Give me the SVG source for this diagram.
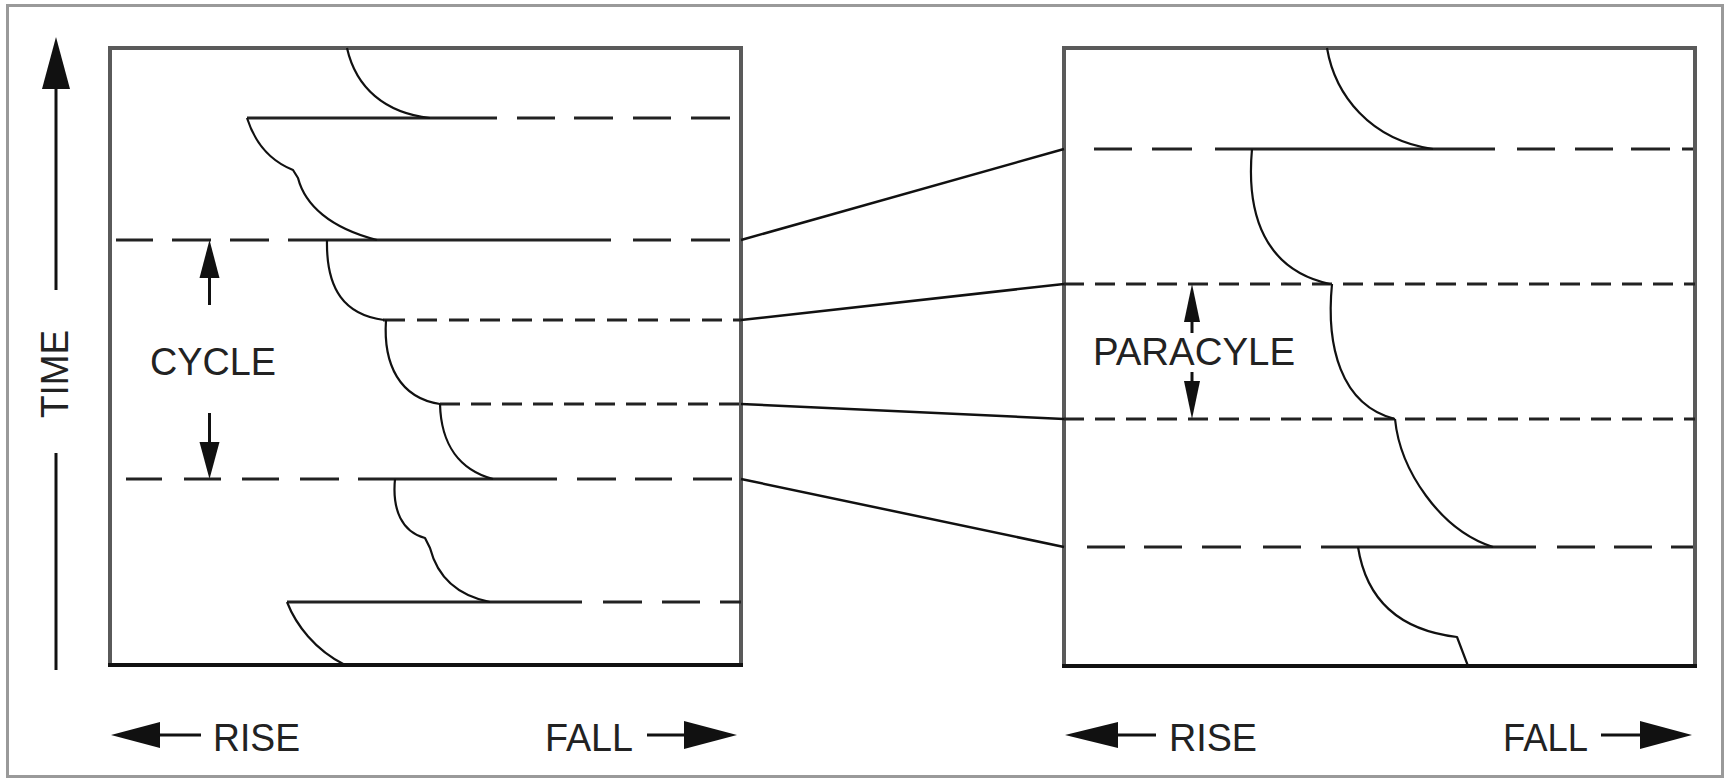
<svg xmlns="http://www.w3.org/2000/svg" width="1729" height="779" viewBox="0 0 1729 779">
  <style>
    .frame { fill: #fff; stroke: #9a9a9a; stroke-width: 3; }
    .box { fill: none; stroke: #5a5a5a; stroke-width: 4; }
    .base { stroke: #111; stroke-width: 4; }
    .lvl { fill: none; stroke: #222; stroke-width: 3; }
    .lvl-short { fill: none; stroke: #222; stroke-width: 3; }
    .curve { fill: none; stroke: #111; stroke-width: 2.2; stroke-linejoin: round; }
    .link { fill: none; stroke: #111; stroke-width: 2.5; }
    .shaft { fill: none; stroke: #111; stroke-width: 3; }
    .head { fill: #111; stroke: none; }
    .lbl { font-family: "Liberation Sans", Arial, Helvetica, sans-serif; font-size: 38px; fill: #222; }
  </style>

  <!-- outer frame -->
  <rect class="frame" x="7.5" y="5.5" width="1715" height="771"/>

  <!-- vertical time axis -->
  <g id="time-axis">
    <polygon class="head" points="56,37 70,89 42,89"/>
    <line class="shaft" x1="56" y1="88" x2="56" y2="290"/>
    <text class="lbl" transform="translate(68,418) rotate(-90)" textLength="88" lengthAdjust="spacingAndGlyphs">TIME</text>
    <line class="shaft" x1="56" y1="453" x2="56" y2="670"/>
  </g>

  <!-- left panel: cycle -->
  <g id="panel-cycle">
    <rect class="box" x="110" y="48" width="631" height="617"/>
    <line class="base" x1="108" y1="665" x2="743" y2="665"/>

    <!-- level lines -->
    <path class="lvl" d="M247,118H497 M517,118H555 M574,118H613 M633,118H671 M691,118H730"/>
    <path class="lvl" d="M116,240H153 M172,240H211 M230,240H269 M288,240H611 M633,240H671 M691,240H730"/>
    <path class="lvl-short" d="M383,320H405 M417,320H437 M449,320H469 M480,320H500 M512,320H532 M543,320H563 M575,320H595 M607,320H627 M638,320H658 M670,320H690 M702,320H722 M733,320H741"/>
    <path class="lvl-short" d="M440,404H460 M471,404H491 M502,404H522 M533,404H553 M564,404H584 M595,404H615 M626,404H646 M657,404H677 M688,404H708 M719,404H739"/>
    <path class="lvl" d="M126,479H162 M184,479H221 M242,479H279 M300,479H339 M358,479H557 M577,479H616 M635,479H672 M693,479H732"/>
    <path class="lvl" d="M287,602H582 M603,602H642 M662,602H700 M720,602H741"/>

    <!-- growth curves -->
    <path class="curve" d="M347,48 C356,88 385,113 430,118"/>
    <path class="curve" d="M247,118 C254,140 268,160 293,170 L298,178 C305,205 330,228 377,240"/>
    <path class="curve" d="M327,240 C326,290 345,315 384,320"/>
    <path class="curve" d="M386,320 C383,365 400,398 440,404"/>
    <path class="curve" d="M440,404 C441,445 460,470 493,479"/>
    <path class="curve" d="M395,479 C392,510 402,532 425,538 L430,548 C437,575 455,595 490,602"/>
    <path class="curve" d="M287,602 C296,625 315,650 345,665"/>

    <!-- cycle span -->
    <polygon class="head" points="209.5,240 219.5,278 199.5,278"/>
    <line class="shaft" x1="209.5" y1="277" x2="209.5" y2="305"/>
    <text class="lbl" x="150" y="375" textLength="126" lengthAdjust="spacingAndGlyphs">CYCLE</text>
    <line class="shaft" x1="209.5" y1="413" x2="209.5" y2="443"/>
    <polygon class="head" points="199.5,442 219.5,442 209.5,479"/>

    <!-- rise / fall -->
    <polygon class="head" points="111,735 160,722 160,748"/>
    <line class="shaft" x1="159" y1="735" x2="201" y2="735"/>
    <text class="lbl" x="213" y="751" textLength="87" lengthAdjust="spacingAndGlyphs">RISE</text>
    <text class="lbl" x="545" y="751" textLength="88" lengthAdjust="spacingAndGlyphs">FALL</text>
    <line class="shaft" x1="647" y1="735" x2="685" y2="735"/>
    <polygon class="head" points="684,721 684,749 737,735"/>
  </g>

  <!-- right panel: paracycle -->
  <g id="panel-paracycle">
    <rect class="box" x="1064" y="48" width="631" height="618"/>
    <line class="base" x1="1062" y1="666" x2="1697" y2="666"/>

    <!-- level lines -->
    <path class="lvl" d="M1094,149H1132 M1152,149H1192 M1215,149H1495 M1517,149H1555 M1575,149H1613 M1631,149H1670 M1682,149H1693"/>
    <path class="lvl-short" d="M1064,284H1084 M1095,284H1115 M1126,284H1146 M1157,284H1177 M1188,284H1208 M1219,284H1239 M1250,284H1270 M1281,284H1301 M1312,284H1332 M1343,284H1363 M1374,284H1394 M1405,284H1425 M1436,284H1456 M1467,284H1487 M1498,284H1518 M1529,284H1549 M1560,284H1580 M1591,284H1611 M1622,284H1642 M1653,284H1673 M1684,284H1695"/>
    <path class="lvl-short" d="M1064,419H1084 M1095,419H1115 M1126,419H1146 M1157,419H1177 M1188,419H1208 M1219,419H1239 M1250,419H1270 M1281,419H1301 M1312,419H1332 M1343,419H1363 M1374,419H1394 M1405,419H1425 M1436,419H1456 M1467,419H1487 M1498,419H1518 M1529,419H1549 M1560,419H1580 M1591,419H1611 M1622,419H1642 M1653,419H1673 M1684,419H1695"/>
    <path class="lvl" d="M1087,547H1125 M1144,547H1182 M1202,547H1241 M1263,547H1301 M1321,547H1536 M1557,547H1595 M1614,547H1652 M1671,547H1693"/>

    <!-- growth curves -->
    <path class="curve" d="M1327,48 C1335,95 1370,140 1433,149"/>
    <path class="curve" d="M1252,149 C1246,215 1265,270 1330,284"/>
    <path class="curve" d="M1332,284 C1326,345 1340,405 1395,419"/>
    <path class="curve" d="M1395,419 C1400,470 1440,530 1493,547"/>
    <path class="curve" d="M1358,547 C1366,598 1398,630 1457,637 L1468,666"/>

    <!-- paracycle span -->
    <polygon class="head" points="1192,284 1200,322 1184,322"/>
    <line class="shaft" x1="1192" y1="321" x2="1192" y2="333"/>
    <text class="lbl" x="1093" y="365" textLength="202" lengthAdjust="spacingAndGlyphs">PARACYLE</text>
    <line class="shaft" x1="1192" y1="372" x2="1192" y2="382"/>
    <polygon class="head" points="1184,381 1200,381 1192,419"/>

    <!-- rise / fall -->
    <polygon class="head" points="1065,735 1118,722 1118,748"/>
    <line class="shaft" x1="1117" y1="735" x2="1156" y2="735"/>
    <text class="lbl" x="1169" y="751" textLength="88" lengthAdjust="spacingAndGlyphs">RISE</text>
    <text class="lbl" x="1503" y="751" textLength="85" lengthAdjust="spacingAndGlyphs">FALL</text>
    <line class="shaft" x1="1601" y1="735" x2="1641" y2="735"/>
    <polygon class="head" points="1640,721 1640,749 1692,735"/>
  </g>

  <!-- correlation lines between the two panels -->
  <g id="connectors">
    <line class="link" x1="741" y1="240" x2="1064" y2="149"/>
    <line class="link" x1="741" y1="320" x2="1064" y2="284"/>
    <line class="link" x1="741" y1="404" x2="1064" y2="419"/>
    <line class="link" x1="741" y1="479" x2="1064" y2="547"/>
  </g>
</svg>
